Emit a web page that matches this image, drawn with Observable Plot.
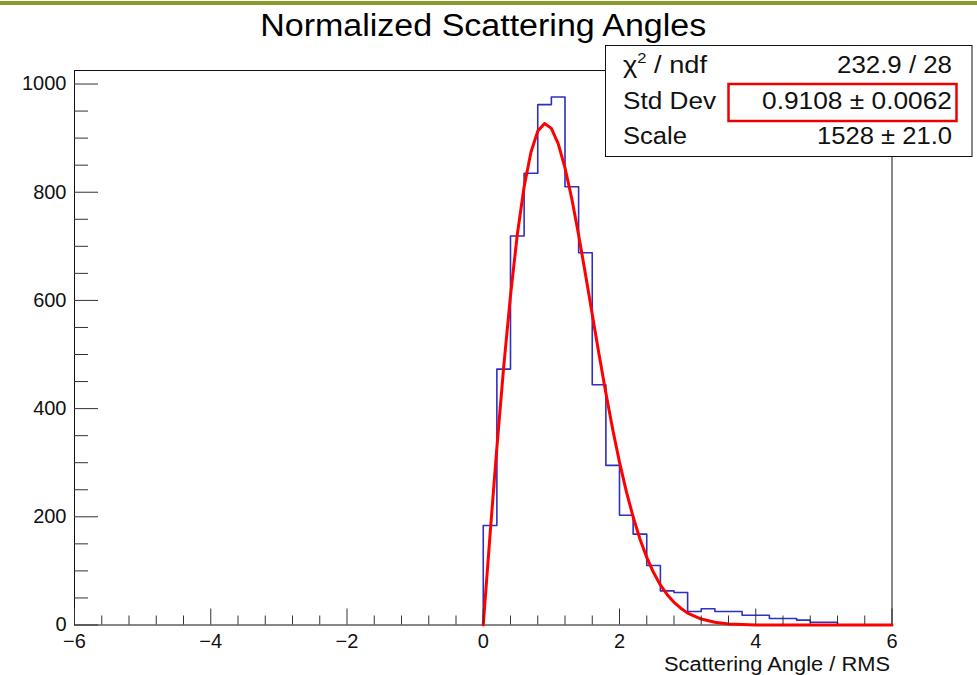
<!DOCTYPE html>
<html><head><meta charset="utf-8">
<script src="https://cdn.jsdelivr.net/npm/d3@7"></script>
<script src="https://cdn.jsdelivr.net/npm/@observablehq/plot@0.6"></script>
<style>
body{margin:0;background:#fff;}
#wrap{position:relative;width:977px;height:675px;overflow:hidden;background:#fff;font-family:"Liberation Sans",Arial,Helvetica,sans-serif;}
#bar{position:absolute;left:0;top:1px;width:977px;height:4px;background:#8a9b2e;}
#wrap svg{position:absolute;left:0;top:0;}
</style></head><body><div id="wrap"><div id="bar"></div></div>
<script>
// ---- data ----
const title = "Normalized Scattering Angles";
const xLabel = "Scattering Angle / RMS";
const xDomain = [-6, 6];
const yDomain = [0, 1025];
const binLeft = [0.0,0.2,0.4,0.6,0.8,1.0,1.2,1.4,1.6,1.8,2.0,2.2,2.4,2.6,2.8,3.0,3.2,3.4,3.6,3.8,4.0,4.2,4.4,4.6,4.8,5.0,5.2,5.4,5.6,5.8];
const counts  = [184,473,719,835,962,976,810,688,444,295,203,168,110,63,60,25,30,25,25,18,18,12,12,9,5,5,0,0,0,0];
const fitX = [0,0.05,0.1,0.15,0.2,0.3,0.4,0.5,0.6,0.7,0.8,0.9,1.0,1.1,1.2,1.3,1.4,1.5,1.6,1.7,1.8,1.9,2.0,2.1,2.2,2.3,2.4,2.5,2.6,2.7,2.8,2.9,3.0,3.2,3.4,3.6,3.8,4.0,5.0,6.0];
const fitY = [0,84,167,248,328,477,609,722,810,874,913,927,918,890,845,788,721,649,574,500,429,362,301,247,200,159,125,97,74,56,42,31,22,11,5,2,1,0,0,0];
const xTicksMajor = [-6,-4,-2,0,2,4,6];
const xTicksMinor = [-5.6,-5.2,-4.8,-4.4,-3.6,-3.2,-2.8,-2.4,-1.6,-1.2,-0.8,-0.4,0.4,0.8,1.2,1.6,2.4,2.8,3.2,3.6,4.4,4.8,5.2,5.6];
const yTicksMajor = [0,200,400,600,800,1000];
const yTicksMinor = [50,100,150,250,300,350,450,500,550,650,700,750,850,900,950];
const statsLabels = ["χ", "Std Dev", "Scale"];
const statsValues = ["232.9 / 28", "0.9108 ± 0.0062", "1528 ± 21.0"];

// ---- build tables ----
const binW = binLeft[1] - binLeft[0];
const histPts = [{x: binLeft[0], y: 0}];
binLeft.forEach((b, i) => histPts.push({x: b, y: counts[i]}));
histPts.push({x: binLeft[binLeft.length-1] + binW, y: 0});
const fitPts = fitX.map((x, i) => ({x, y: fitY[i]}));

const W = 977, H = 675, mL = 74, mR = 85.5, mT = 70, mB = 50.5;
const frameH = H - mT - mB, frameW = W - mL - mR;
const font = '"Liberation Sans", Arial, Helvetica, sans-serif';
const fmt = d => d < 0 ? "\u2212" + (-d) : String(d);

const chart = Plot.plot({
  width: W, height: H,
  marginLeft: mL, marginRight: mR, marginTop: mT, marginBottom: mB,
  x: {domain: xDomain},
  y: {domain: yDomain},
  style: {fontFamily: font, background: "transparent", color: "#000", overflow: "visible"},
  marks: [
    Plot.line(histPts, {x: "x", y: "y", curve: "step-after", stroke: "#2f2fc0", strokeWidth: 1.6}),
    Plot.frame({stroke: "#111", strokeWidth: 1}),
    Plot.line(fitPts, {x: "x", y: "y", stroke: "#ff0000", strokeWidth: 3, strokeLinejoin: "round"}),
    Plot.ruleX(xTicksMajor, {x: d => d, insetTop: frameH - 16, stroke: "#333"}),
    Plot.ruleX(xTicksMinor, {x: d => d, insetTop: frameH - 9, stroke: "#333"}),
    Plot.ruleY(yTicksMajor, {y: d => d, insetRight: frameW - 24, stroke: "#333"}),
    Plot.ruleY(yTicksMinor, {y: d => d, insetRight: frameW - 14, stroke: "#333"}),
    Plot.axisX(xTicksMajor, {tickSize: 0, tickPadding: 9, fontSize: 20, tickFormat: fmt, label: null, fill: "#111"}),
    Plot.axisY(yTicksMajor, {tickSize: 0, tickPadding: 8, fontSize: 20, tickFormat: fmt, label: null, fill: "#111"}),
    Plot.text([title], {frameAnchor: "top", dy: -35, lineAnchor: "bottom", fontSize: 31, fill: "#000", className: "ttl"}),
    Plot.text([xLabel], {frameAnchor: "bottom-right", dx: -2, dy: 45.5, lineAnchor: "bottom", textAnchor: "end", fontSize: 20, fill: "#111", className: "xlab"})
  ]
});
document.getElementById("wrap").appendChild(chart);

// stretch title/label to the widths seen in the picture
d3.select(chart).selectAll(".ttl text").attr("textLength", 446).attr("lengthAdjust", "spacingAndGlyphs");
d3.select(chart).selectAll(".xlab text").attr("textLength", 226).attr("lengthAdjust", "spacingAndGlyphs");

// ---- statistics box (legend-like overlay) ----
const ov = d3.select("#wrap").append("svg").attr("width", W).attr("height", H)
  .style("font-family", font).style("pointer-events", "none");
ov.append("rect").attr("x", 605.5).attr("y", 45.5).attr("width", 366.5).attr("height", 111)
  .attr("fill", "#fff").attr("stroke", "#111").attr("stroke-width", 1);
const baselines = [72.5, 108.5, 144];
const labelW = [null, 93, 64];
const valueW = [115, 190, 135];
statsLabels.forEach((s, i) => {
  const t = ov.append("text").attr("x", 623).attr("y", baselines[i]).attr("font-size", 23).attr("fill", "#111");
  if (i === 0) {
    t.append("tspan").text(s);
    t.append("tspan").attr("font-size", 14).attr("dy", -10).text("2");
    t.append("tspan").attr("dy", 10).text(" / ndf");
    t.attr("textLength", 84).attr("lengthAdjust", "spacingAndGlyphs");
  } else {
    t.text(s).attr("textLength", labelW[i]).attr("lengthAdjust", "spacingAndGlyphs");
  }
});
statsValues.forEach((s, i) => {
  ov.append("text").attr("x", 952).attr("y", baselines[i]).attr("text-anchor", "end")
    .attr("font-size", 23).attr("fill", "#111").text(s)
    .attr("textLength", valueW[i]).attr("lengthAdjust", "spacingAndGlyphs");
});
ov.append("rect").attr("x", 728.5).attr("y", 84).attr("width", 228).attr("height", 37)
  .attr("fill", "none").attr("stroke", "#ee0000").attr("stroke-width", 2.5);
</script>
</body></html>
